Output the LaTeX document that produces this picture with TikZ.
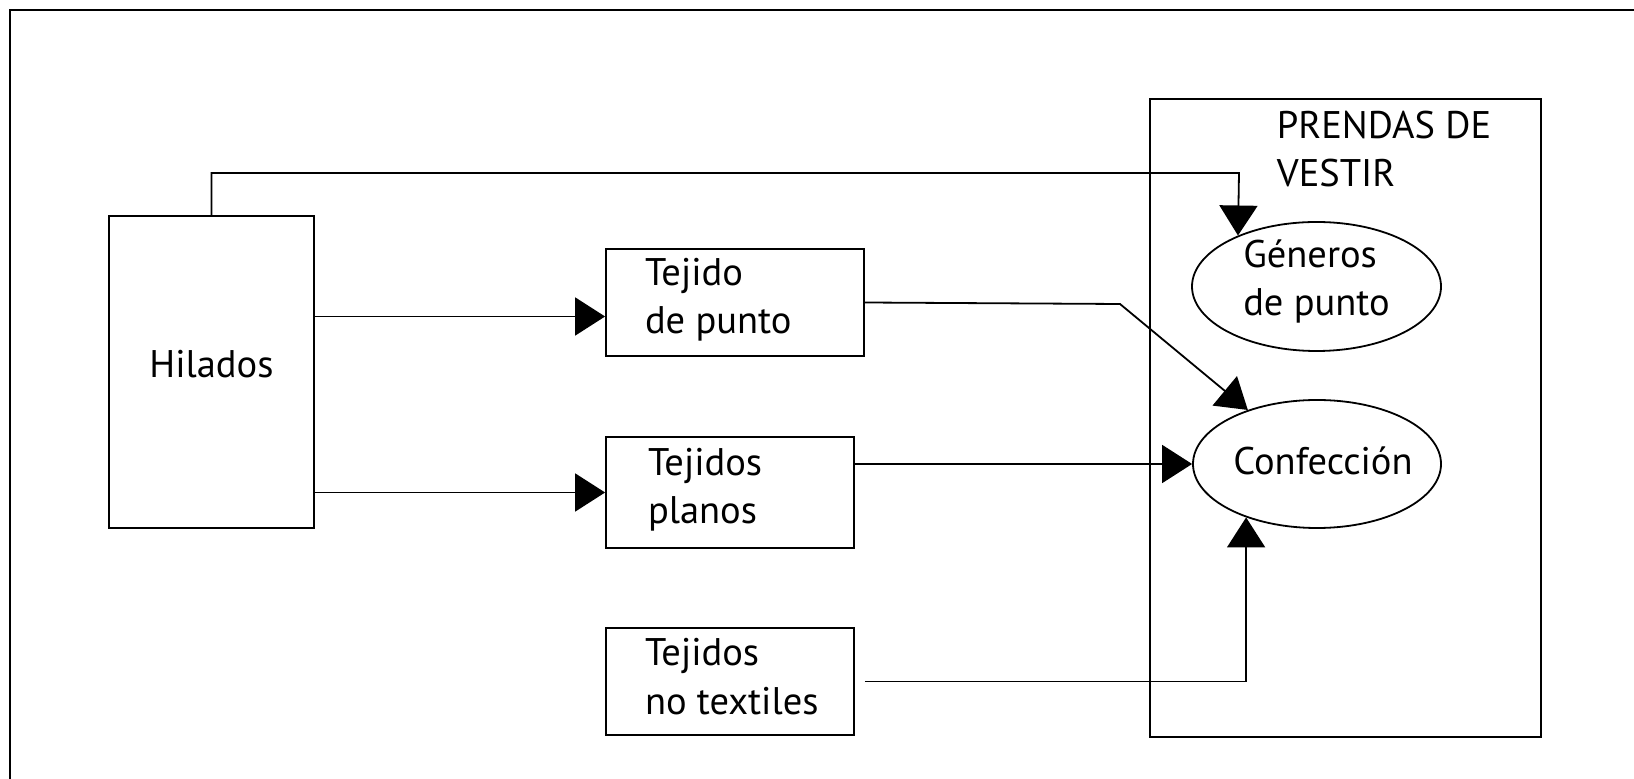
\documentclass[tikz,border=0pt]{standalone}
\usepackage{fontspec}
\setmainfont{PT Sans}
\usetikzlibrary{arrows.meta,shapes.geometric}
\newcommand{\lblfont}{\fontsize{38.5pt}{48.5pt}\selectfont}
\begin{document}
\begin{tikzpicture}[x=1pt,y=1pt,line width=1.8pt,
	box/.style={draw,rectangle,inner sep=0pt},
	oval/.style={draw,ellipse,inner sep=0pt},
	txt/.style={inner sep=0pt,align=left,font=\lblfont},
	arr/.style={-{Triangle[length=30pt,width=38pt]}}]
	\useasboundingbox (0,0) rectangle (1634,779);
	\draw (10,0) |- (1634,769);
	\node[box,minimum width=205pt,minimum height=312pt] (hil) at (211.5,407) {};
	\node[txt] (hiltxt) at ([yshift=8pt]hil.center) {Hilados};
	\node[box,minimum width=258pt,minimum height=107pt] (tdp) at (735,476.5) {};
	\node[txt,anchor=west] (tdptxt) at ([xshift=39pt,yshift=3pt]tdp.west) {Tejido\\de punto};
	\node[box,minimum width=248pt,minimum height=111pt] (tpl) at (730,286.5) {};
	\node[txt,anchor=west] (tpltxt) at ([xshift=42pt,yshift=3pt]tpl.west) {Tejidos\\planos};
	\node[box,minimum width=248pt,minimum height=107pt] (ntx) at (730,97.5) {};
	\node[txt,anchor=west] (ntxtxt) at ([xshift=39pt,yshift=5pt]ntx.west) {Tejidos\\no textiles};
	\node[box,minimum width=391pt,minimum height=638pt] (prendas) at (1345.5,361) {};
	\node[txt,anchor=north west] (prendastxt) at (1276,669) {PRENDAS DE\\VESTIR};
	\node[oval,minimum width=249pt,minimum height=129pt] (gen) at (1316.5,492.5) {};
	\node[txt] (gentxt) at ([yshift=5pt]gen.center) {Géneros\\de punto};
	\node[oval,minimum width=248pt,minimum height=128pt] (conf) at (1317,315) {};
	\node[txt] (conftxt) at ([xshift=6pt,yshift=3pt]conf.center) {Confección};
	\coordinate (toprt) at (1239,606);
	\coordinate (bend) at (1120,475);
	\coordinate (tdpin) at ([yshift=-14pt]tdp.west);
	\coordinate (ntxout) at ([xshift=10pt]ntx.east);
	\draw[arr] (hil.north) |- (toprt) -- (gen.147);
	\draw[arr] (hil.east |- tdpin) -- (tdpin);
	\draw[arr] (hil.east |- tpl.west) -- (tpl.west);
	\draw[arr] (tdp.east) -- (bend) -- (conf.142);
	\draw[arr] (tpl.east |- conf.west) -- (conf.west);
	\draw[arr] (ntxout) -| (conf.-143);
\end{tikzpicture}
\end{document}
